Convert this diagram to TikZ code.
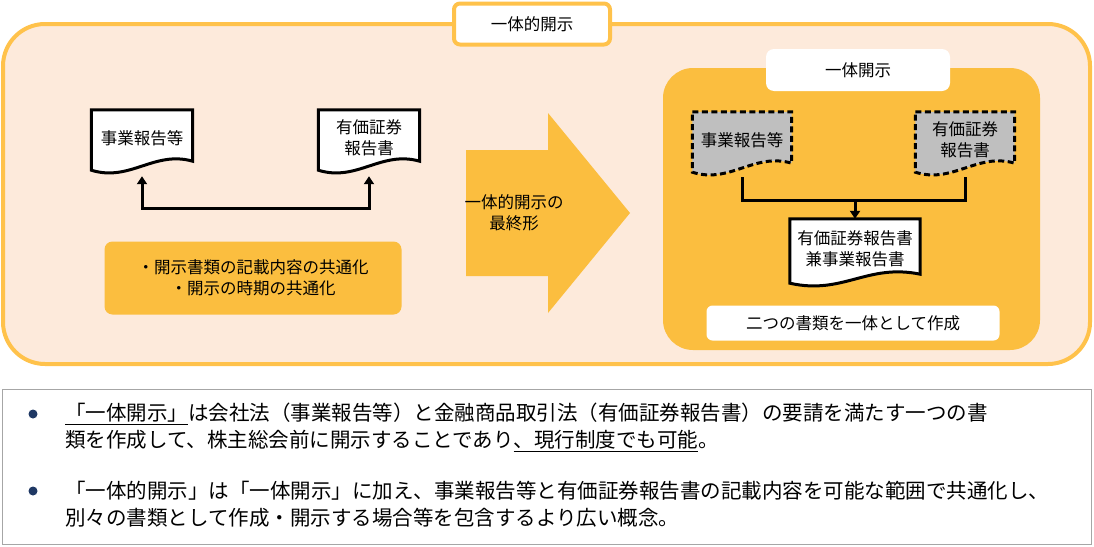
\documentclass[tikz,border=0pt]{standalone}
\usepackage{fontspec}
\setmainfont{Noto Sans CJK JP}
\usetikzlibrary{calc,arrows.meta}
\pgfdeclarelayer{back}\pgfdeclarelayer{mid}
\pgfsetlayers{back,mid,main}
\definecolor{peach}{HTML}{FDEADB}
\definecolor{orbord}{HTML}{FFC24B}
\definecolor{orfill}{HTML}{FBBE3F}
\definecolor{navy}{HTML}{1F3864}
\definecolor{grayfill}{HTML}{BFBFBF}
\tikzset{
 lbl/.style={font=\fontsize{16.5}{21}\selectfont, align=center, inner sep=0pt},
 docbox/.style={lbl, minimum width=101pt, minimum height=56pt},
 docline/.style={draw=black, line width=3pt, fill=white},
 gdocline/.style={draw=black, line width=3pt, dash pattern=on 6pt off 3.5pt, fill=grayfill},
 conn/.style={draw=black, line width=3pt, -{Triangle[length=8pt,width=10pt]}},
 para/.style={anchor=west, inner sep=0pt, font=\fontsize{20.5}{24}\selectfont},
}
\newcommand{\docpath}[2]{% #1 node, #2 style
 \begin{pgfonlayer}{mid}
 \path[#2] (#1.north west) -- (#1.north east) -- ($(#1.south east)+(0,5pt)$)
  .. controls ($(#1.south)+(12pt,16pt)$) and ($(#1.south)+(-12pt,-16pt)$) .. ($(#1.south west)+(0,-4pt)$) -- cycle;
 \end{pgfonlayer}}
\begin{document}
\begin{tikzpicture}[x=1pt,y=-1pt]
\useasboundingbox (0,0) rectangle (1094,546);
\begin{pgfonlayer}{back}
\path[fill=peach, draw=orbord, line width=4pt, rounded corners=42pt] (3,24) rectangle (1090,364);
\path[fill=orfill, draw=none, rounded corners=30pt] (663,68) rectangle (1040,350);
\path[draw=black!35, line width=1pt, fill=white] (2,389) rectangle (1091,544);
\end{pgfonlayer}
\node[lbl, draw=orbord, line width=4pt, fill=white, rounded corners=6pt, minimum width=156pt, minimum height=41pt] (top) at (532,24) {一体的開示};
% left docs
\node[docbox] (d1) at (142,138) {事業報告等};
\docpath{d1}{docline}
\node[docbox] (d2) at (369,138) {有価証券\\報告書};
\docpath{d2}{docline}
\coordinate (j1) at (258,208);
\draw[line width=3pt, {Triangle[length=8pt,width=10pt]}-{Triangle[length=8pt,width=10pt]}] ([yshift=-10pt]d1.south) |- (j1) -| ([yshift=-10pt]d2.south);
\node[lbl, fill=orfill, rounded corners=8pt, minimum width=297pt, minimum height=73pt] (pts) at (253,278) {・開示書類の記載内容の共通化\\・開示の時期の共通化};
% big arrow
\fill[orfill] (466,150)--(548,150)--(548,113)--(630,213)--(548,313)--(548,276)--(466,276)--cycle;
\node[lbl] (fin) at (514,213) {一体的開示の\\最終形};
% right
\node[lbl, fill=white, rounded corners=8pt, minimum width=184pt, minimum height=42pt] (ittai) at (858,70) {一体開示};
\node[docbox, minimum width=99pt] (g1) at (742,140) {事業報告等};
\docpath{g1}{gdocline}
\node[docbox, minimum width=99pt] (g2) at (965,140) {有価証券\\報告書};
\docpath{g2}{gdocline}
\coordinate (j2) at (855,200);
\draw[line width=3pt] ([yshift=-9pt]g1.south) |- (j2) -| ([yshift=-9pt]g2.south);
\node[docbox, minimum width=130pt, minimum height=60pt] (d3) at (855,249) {有価証券報告書\\兼事業報告書};
\docpath{d3}{docline}
\draw[conn] (j2) -- (d3.north);
\node[lbl, fill=white, rounded corners=6pt, minimum width=293pt, minimum height=35pt] (both) at (853,323) {二つの書類を一体として作成};
% bottom text
\fill[navy] (33,414) circle (4.5pt);
\fill[navy] (33,491) circle (4.5pt);
\node[para] (l1) at (65,414) {\underline{「一体開示」}は会社法（事業報告等）と金融商品取引法（有価証券報告書）の要請を満たす一つの書};
\node[para] (l2) at (65,441) {類を作成して、株主総会前に開示することであり\underline{、現行制度でも可能}。};
\node[para] (l3) at (65,491) {「一体的開示」は「一体開示」に加え、事業報告等と有価証券報告書の記載内容を可能な範囲で共通化し、};
\node[para] (l4) at (65,518) {別々の書類として作成・開示する場合等を包含するより広い概念。};
\end{tikzpicture}
\end{document}
